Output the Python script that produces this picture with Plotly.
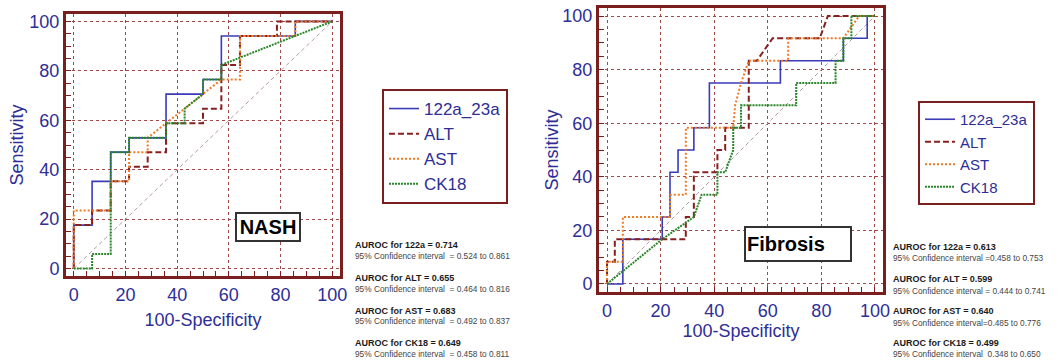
import plotly.graph_objects as go

# ---------------- data ----------------
SERIES = ["122a_23a", "ALT", "AST", "CK18"]

# NASH panel (100-Specificity, Sensitivity)
NASH_122A_X = [0, 0, 7.1, 7.1, 14.3, 14.3, 21.4, 21.4, 35.7, 35.7, 50.0, 50.0, 57.1, 57.1, 85.7, 85.7, 100]
NASH_122A_Y = [0, 17.6, 17.6, 35.3, 35.3, 47.1, 47.1, 52.9, 52.9, 70.6, 70.6, 76.5, 76.5, 94.1, 94.1, 100, 100]
NASH_ALT_X = [0, 0, 7.1, 7.1, 14.3, 14.3, 21.4, 21.4, 28.6, 28.6, 35.7, 35.7, 50.0, 50.0, 57.1, 57.1, 64.3, 64.3, 78.6, 78.6, 100]
NASH_ALT_Y = [0, 17.6, 17.6, 23.5, 23.5, 35.3, 35.3, 41.2, 41.2, 47.1, 47.1, 58.8, 58.8, 64.7, 64.7, 82.4, 82.4, 94.1, 94.1, 100, 100]
NASH_AST_X = [0, 0, 14.3, 14.3, 21.4, 21.4, 28.6, 28.6, 57.1, 64.3, 64.3, 85.7, 85.7, 100]
NASH_AST_Y = [0, 23.5, 23.5, 35.3, 35.3, 47.1, 47.1, 52.9, 76.5, 76.5, 94.1, 94.1, 100, 100]
NASH_CK18_X = [0, 7.1, 7.1, 14.3, 14.3, 21.4, 21.4, 35.7, 35.7, 42.9, 42.9, 50.0, 50.0, 57.1, 57.1, 100]
NASH_CK18_Y = [0, 0, 5.9, 5.9, 47.1, 47.1, 52.9, 52.9, 58.8, 58.8, 64.7, 70.6, 76.5, 76.5, 82.4, 100]

# Fibrosis panel
FIB_122A_X = [0, 5.9, 5.9, 20.6, 20.6, 23.5, 23.5, 26.5, 26.5, 32.4, 32.4, 38.2, 38.2, 64.7, 64.7, 88.2, 88.2, 97.1, 97.1, 100]
FIB_122A_Y = [0, 0, 16.7, 16.7, 25.0, 25.0, 41.7, 41.7, 50.0, 50.0, 58.3, 58.3, 75.0, 75.0, 83.3, 83.3, 91.7, 91.7, 100, 100]
FIB_ALT_X = [0, 0, 2.9, 2.9, 29.4, 29.4, 32.4, 32.4, 41.2, 41.2, 44.1, 44.1, 52.9, 52.9, 55.9, 61.8, 79.4, 82.4, 100]
FIB_ALT_Y = [0, 8.3, 8.3, 16.7, 16.7, 25.0, 25.0, 41.7, 41.7, 50.0, 50.0, 58.3, 58.3, 83.3, 83.3, 91.7, 91.7, 100, 100]
FIB_AST_X = [0, 0, 5.9, 5.9, 23.5, 23.5, 29.4, 29.4, 47.1, 47.8, 50.0, 52.9, 67.6, 67.6, 88.2, 94.1, 100]
FIB_AST_Y = [0, 8.3, 8.3, 25.0, 25.0, 33.3, 33.3, 58.3, 58.3, 66.7, 75.0, 83.3, 83.3, 91.7, 91.7, 100, 100]
FIB_CK18_X = [0, 20.6, 32.4, 35.3, 41.2, 41.2, 44.1, 47.1, 47.1, 50.0, 50.0, 70.6, 70.6, 85.3, 85.3, 88.2, 88.2, 91.2, 91.2, 100]
FIB_CK18_Y = [0, 16.7, 25.0, 33.3, 33.3, 41.7, 41.7, 50.0, 58.3, 58.3, 66.7, 66.7, 75.0, 75.0, 83.3, 83.3, 91.7, 91.7, 100, 100]

DIAG = [0, 100]
TICKS = [0, 20, 40, 60, 80, 100]

NASH_AUROC = [("122a", "0.714", "95% Confidence interval \u00a0= 0.524 to 0.861"),
              ("ALT", "0.655", "95% Confidence interval \u00a0= 0.464 to 0.816"),
              ("AST", "0.683", "95% Confidence interval \u00a0= 0.492 to 0.837"),
              ("CK18", "0.649", "95% Confidence interval \u00a0= 0.458 to 0.811")]
FIB_AUROC = [("122a", "0.613", "95% Confidence interval =0.458 to 0.753"),
             ("ALT", "0.599", "95% Confidence interval = 0.444 to 0.741"),
             ("AST", "0.640", "95% Confidence interval=0.485 to 0.776"),
             ("CK18", "0.499", "95% Confidence interval \u00a00.348 to 0.650")]

# ---------------- style ----------------
W, H = 1058, 363
FONT = "Liberation Sans, Arial, Helvetica, sans-serif"
BLUE_TXT = "#2e2e96"
FRAME = "#7a1e1e"
GRID = "#a04848"
STYLES = {
    "122a_23a": dict(color="#3b3bb8", width=1.6, dash="solid"),
    "ALT": dict(color="#862020", width=2, dash="6px,3px"),
    "AST": dict(color="#f07a22", width=2, dash="2px,2px"),
    "CK18": dict(color="#2b862b", width=2, dash="2px,1px"),
}

fig = go.Figure()

panels = [
    ("x", "y", "legend", [(NASH_122A_X, NASH_122A_Y), (NASH_ALT_X, NASH_ALT_Y),
                          (NASH_AST_X, NASH_AST_Y), (NASH_CK18_X, NASH_CK18_Y)]),
    ("x2", "y2", "legend2", [(FIB_122A_X, FIB_122A_Y), (FIB_ALT_X, FIB_ALT_Y),
                             (FIB_AST_X, FIB_AST_Y), (FIB_CK18_X, FIB_CK18_Y)]),
]
for xa, ya, lg, data in panels:
    fig.add_trace(go.Scatter(x=DIAG, y=DIAG, mode="lines", xaxis=xa, yaxis=ya,
                             line=dict(color="#b49ca4", width=1, dash="4px,3px"),
                             showlegend=False, hoverinfo="skip"))
    for name, (xs, ys) in zip(SERIES, data):
        fig.add_trace(go.Scatter(x=xs, y=ys, mode="lines", name=name, xaxis=xa, yaxis=ya,
                                 legend=lg, line=STYLES[name]))


def axis_common(**kw):
    d = dict(range=[-3, 103], tickvals=TICKS, ticks="inside", ticklen=5, tickwidth=1,
             tickcolor=FRAME, showline=True, linewidth=3, linecolor=FRAME, mirror=True,
             showgrid=True, gridcolor=GRID, griddash="dot", gridwidth=1, zeroline=False,
             tickfont=dict(size=18, color=BLUE_TXT, family=FONT),
             minor=dict(dtick=5, ticks="inside", ticklen=5, tickcolor=FRAME, showgrid=False),
             fixedrange=True, automargin=False)
    d.update(kw)
    return d


fig.update_layout(
    width=W, height=H, autosize=False,
    margin=dict(l=0, r=0, t=0, b=0, autoexpand=False),
    paper_bgcolor="white", plot_bgcolor="white",
    font=dict(family=FONT),
    xaxis=axis_common(domain=[66 / W, 340 / W], anchor="y",
                      title=dict(text="100-Specificity", font=dict(size=18, color=BLUE_TXT), standoff=10)),
    yaxis=axis_common(domain=[1 - 276 / H, 1 - 14 / H], anchor="x",
                      title=dict(text="Sensitivity", font=dict(size=18, color=BLUE_TXT), standoff=2)),
    xaxis2=axis_common(domain=[599 / W, 883 / W], anchor="y2",
                       title=dict(text="100-Specificity", font=dict(size=18, color=BLUE_TXT), standoff=5)),
    yaxis2=axis_common(domain=[1 - 292 / H, 1 - 8 / H], anchor="x2",
                       title=dict(text="Sensitivity", font=dict(size=18, color=BLUE_TXT), standoff=0)),
    legend=dict(x=382 / W, y=1 - 89 / H, xanchor="left", yanchor="top",
                bgcolor="white", bordercolor=FRAME, borderwidth=2,
                font=dict(size=17, color=BLUE_TXT, family=FONT), itemwidth=30),
    legend2=dict(x=918 / W, y=1 - 101 / H, xanchor="left", yanchor="top",
                 bgcolor="white", bordercolor=FRAME, borderwidth=2,
                 font=dict(size=15, color=BLUE_TXT, family=FONT), itemwidth=30),
)

annotations = []


def add_auroc(x_px, bold_y, reg_y, rows):
    for (nm, val, ci), by, ry in zip(rows, bold_y, reg_y):
        annotations.append(dict(xref="paper", yref="paper", x=x_px / W, y=1 - by / H,
                                xanchor="left", yanchor="middle", showarrow=False,
                                text=f"<b>AUROC for {nm} = {val}</b>",
                                font=dict(size=9, color="#1a1a1a", family=FONT)))
        annotations.append(dict(xref="paper", yref="paper", x=x_px / W, y=1 - ry / H,
                                xanchor="left", yanchor="middle", showarrow=False,
                                text=ci, font=dict(size=8.3, color="#444444", family=FONT)))


add_auroc(353, [245, 278.3, 310.7, 343.3], [256, 289.3, 320.7, 354], NASH_AUROC)
add_auroc(891, [246.7, 279.3, 310.7, 342.7], [258.3, 291, 323.3, 354], FIB_AUROC)

annotations.append(dict(xref="x", yref="y", x=75.3, y=16.9, showarrow=False,
                        text="<b>NASH</b>", font=dict(size=20, color="black", family=FONT),
                        bgcolor="white", bordercolor="#333333", borderwidth=2, borderpad=1,
                        width=60, height=24))
annotations.append(dict(xref="x2", yref="y2", x=71.1, y=14.8, showarrow=False,
                        text="<b>Fibrosis</b>", font=dict(size=20, color="black", family=FONT),
                        bgcolor="white", bordercolor="#333333", borderwidth=2, borderpad=1,
                        width=102, height=30, align="left"))

fig.update_layout(annotations=annotations)
fig.write_html("out.html", config={"displayModeBar": False},
               post_script="document.body.style.margin='0';document.body.style.overflow='hidden';")
